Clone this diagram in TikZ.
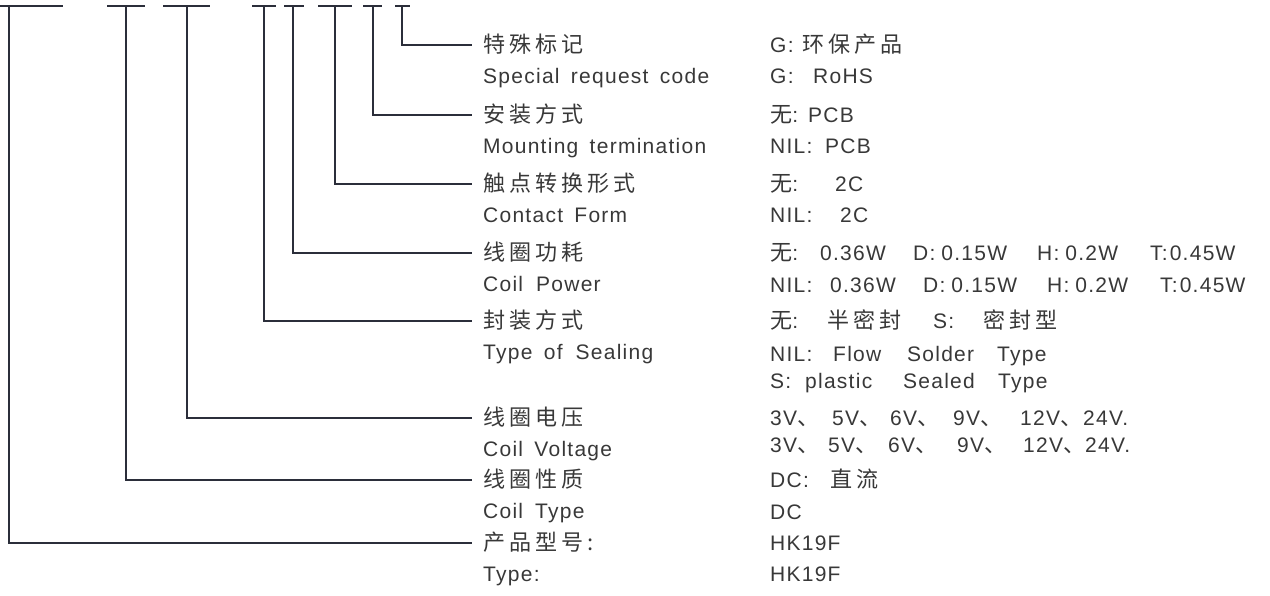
\documentclass[tikz,border=0pt]{standalone}
\usepackage{fontspec}
\setmainfont{Liberation Sans}[LetterSpace=6,WordSpace=1.6]
\newfontfamily\zhfont{Noto Sans CJK SC}[LetterSpace=18,Scale=1.05]
\newcommand{\zh}[1]{{\zhfont #1}}
\definecolor{inkline}{HTML}{2B2E3A}
\definecolor{inktext}{HTML}{383838}

\begin{document}
\begin{tikzpicture}[x=1pt,y=-1pt]
\tikzset{
  codebar/.style={line width=2.6pt,color=inkline},
  leader/.style={line width=2.3pt,color=inkline},
  lbl/.style={anchor=west,inner xsep=11pt,inner ysep=0pt,text height=18pt,text depth=4pt,
              text=inktext,font=\fontsize{21}{25}\selectfont},
  val/.style={lbl,inner xsep=0pt},
}
\useasboundingbox (0,0) rectangle (1270,595);

% the code bars on top
\foreach \a/\b/\v/\n in {0/63/9/ty,107/145/126/ct,163/210/187/cv,252/276/264/se,
                         284/304/293/cp,318/352/335/cf,363/382/373/mt,395/410/402/sp} {
\draw[codebar] (\a,6) -- (\b,6);
\coordinate (t\n) at (\v,6);
}

% the labels
\foreach \y/\n/\zt/\et in {45/sp/特殊标记/Special request code,
                           115/mt/安装方式/Mounting termination,
                           184/cf/触点转换形式/Contact Form,
                           253/cp/线圈功耗/Coil\hspace{13pt}Power,
                           321/se/封装方式/Type of\hspace{13pt}Sealing,
                           418/cv/线圈电压/Coil Voltage,
                           480/ct/线圈性质/Coil\hspace{12pt}Type,
                           543/ty/产品型号:/Type:} {
\node[lbl] (zh\n) at (472,\y) {\zh{\zt}};
\node[lbl] (en\n) at (472,\y+31) {\et};
\draw[leader] (t\n) |- (zh\n.west);
}

% the values
\node[val] (v1a) at (770,45)  {G:};
\node[val] (v1a2) at (802,45) {\zh{环保产品}};
\node[val] (v1b) at (770,76)  {G:};
\node[val] (v1b2) at (813,76) {RoHS};
\node[val] (v2a) at (770,115) {\zh{无}:};
\node[val] (v2a2) at (808,115) {PCB};
\node[val] (v2b) at (770,146) {NIL:};
\node[val] (v2b2) at (825,146) {PCB};
\node[val] (v3a) at (770,184) {\zh{无}:};
\node[val] (v3a2) at (835,184) {2C};
\node[val] (v3b) at (770,215) {NIL:};
\node[val] (v3b2) at (840,215) {2C};
% coil power
\foreach \x/\t [count=\i] in {770/\zh{无}:,820/0.36W,913/D:\hspace{6pt}0.15W,1037/H:\hspace{6pt}0.2W,1150/T:\hspace{2pt}0.45W}
  \node[val] (v4a\i) at (\x,253) {\t};
\foreach \x/\t [count=\i] in {770/NIL:,830/0.36W,923/D:\hspace{6pt}0.15W,1047/H:\hspace{6pt}0.2W,1160/T:\hspace{2pt}0.45W}
  \node[val] (v4b\i) at (\x,285) {\t};
% sealing
\foreach \x/\t [count=\i] in {770/\zh{无}:,827/\zh{半密封},933/S:,983/\zh{密封型}}
  \node[val] (v5a\i) at (\x,321) {\t};
\foreach \x/\t [count=\i] in {770/NIL:,833/Flow,907/Solder,997/Type}
  \node[val] (v5b\i) at (\x,354) {\t};
\foreach \x/\t [count=\i] in {770/S:,805/plastic,903/Sealed,998/Type}
  \node[val] (v5c\i) at (\x,381) {\t};
% coil voltage
\foreach \x/\t [count=\i] in {770/3V\zh{、},832/5V\zh{、},890/6V\zh{、},953/9V\zh{、},1020/12V\zh{、},1083/24V.}
  \node[val] (v6a\i) at (\x,418) {\t};
\foreach \x/\t [count=\i] in {770/3V\zh{、},828/5V\zh{、},888/6V\zh{、},957/9V\zh{、},1023/12V\zh{、},1085/24V.}
  \node[val] (v6b\i) at (\x,445) {\t};
\node[val] (v7a) at (770,480) {DC:};
\node[val] (v7a2) at (830,480) {\zh{直流}};
\node[val] (v7b) at (770,512) {DC};
\node[val] (v8a) at (770,543) {HK19F};
\node[val] (v8b) at (770,574) {HK19F};
\end{tikzpicture}
\end{document}
